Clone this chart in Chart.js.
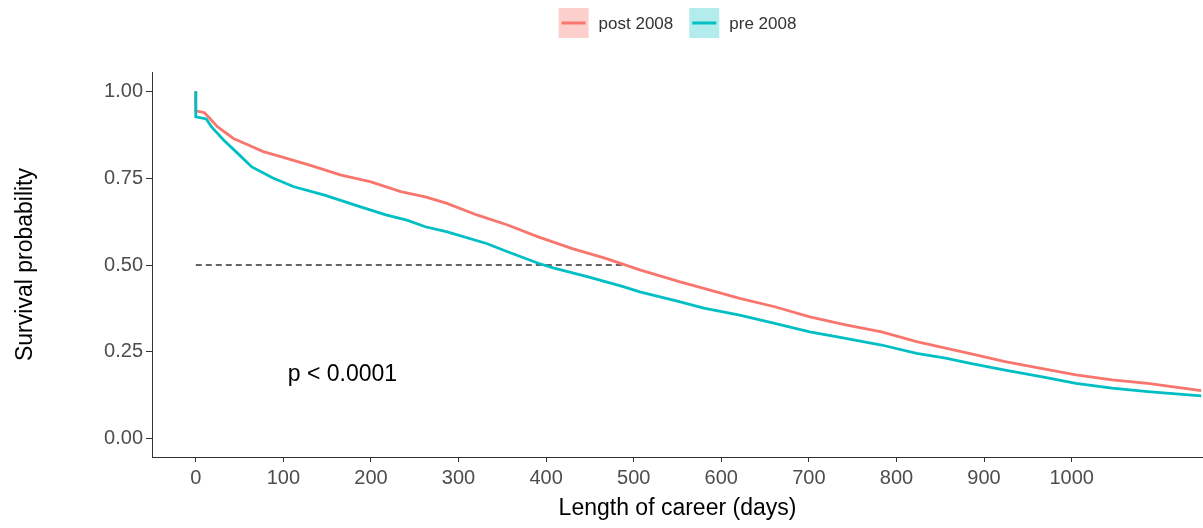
<!DOCTYPE html>
<html>
<head>
<meta charset="utf-8">
<script src="https://cdn.jsdelivr.net/npm/chart.js@4"></script>
<style>
  html, body { margin: 0; padding: 0; background: #fff; }
  #wrap { width: 1203px; height: 528px; }
</style>
</head>
<body>
<div id="wrap"><canvas id="survChart"></canvas></div>
<script>
// values
const seriesLabels = ['post 2008', 'pre 2008'];
const postDays = [0, 0, 10, 25, 43, 60, 77, 95, 130, 165, 200, 234, 262, 286, 321, 356, 391, 429, 468, 507, 552, 580, 621, 661, 701, 742, 783, 823, 856, 883, 924, 965, 1005, 1046, 1087, 1148];
const postSurv = [1.0, 0.943, 0.938, 0.897, 0.864, 0.845, 0.826, 0.813, 0.787, 0.759, 0.739, 0.711, 0.696, 0.678, 0.644, 0.615, 0.581, 0.548, 0.519, 0.486, 0.452, 0.433, 0.404, 0.380, 0.351, 0.328, 0.308, 0.280, 0.261, 0.246, 0.222, 0.203, 0.184, 0.170, 0.160, 0.139];
const preDays = [0, 0, 12, 18, 32, 50, 64, 88, 112, 147, 182, 217, 241, 262, 286, 332, 356, 391, 409, 448, 488, 507, 552, 580, 621, 661, 701, 742, 783, 823, 856, 883, 924, 965, 1005, 1046, 1087, 1148];
const preSurv = [1.0, 0.926, 0.920, 0.897, 0.859, 0.816, 0.782, 0.750, 0.725, 0.701, 0.672, 0.644, 0.629, 0.610, 0.596, 0.562, 0.538, 0.505, 0.491, 0.466, 0.438, 0.423, 0.395, 0.376, 0.356, 0.332, 0.308, 0.289, 0.270, 0.246, 0.232, 0.218, 0.198, 0.179, 0.160, 0.146, 0.136, 0.124];
const medianDays = [0, 490];
const medianSurv = [0.5, 0.5];
const xTicks = [0, 100, 200, 300, 400, 500, 600, 700, 800, 900, 1000];
const yTicks = [0, 0.25, 0.5, 0.75, 1];
const pValueText = 'p < 0.0001';

const fontFamily = "'Liberation Sans', Arial, sans-serif";
const redCol = '#F8766D';
const cyanCol = '#00BFC4';

function toPoints(xs, ys){
    let pts = new Array;
    for ( let i = 0 ; i < xs.length ; i++) pts.push({x: xs[i], y: ys[i]});
    return pts;
}

// legend boxes + p value, drawn like ggplot does
const extrasPlugin = {
    id: 'extras',
    afterDraw(chart){
        const ctx = chart.ctx;
        const area = chart.chartArea;
        const legendCols = [redCol, cyanCol];
        const legendFills = ['rgba(248,118,109,0.35)', 'rgba(0,191,196,0.3)'];
        ctx.save();
        ctx.font = '17px ' + fontFamily;
        const box = 30, gapText = 10, gapItem = 16;
        let total = 0;
        seriesLabels.forEach((lab, i) => {
            total += box + gapText + ctx.measureText(lab).width;
            if ( i < seriesLabels.length - 1 ) total += gapItem;
        });
        let x = (area.left + area.right) / 2 - total / 2;
        const top = 8;
        seriesLabels.forEach((lab, i) => {
            ctx.fillStyle = legendFills[i];
            ctx.fillRect(x, top, box, box);
            ctx.strokeStyle = legendCols[i];
            ctx.lineWidth = 3;
            ctx.beginPath();
            ctx.moveTo(x + 3, top + box / 2);
            ctx.lineTo(x + box - 3, top + box / 2);
            ctx.stroke();
            ctx.fillStyle = '#333333';
            ctx.textBaseline = 'middle';
            ctx.textAlign = 'left';
            ctx.fillText(lab, x + box + gapText, top + box / 2 + 1);
            x += box + gapText + ctx.measureText(lab).width + gapItem;
        });
        ctx.font = '23px ' + fontFamily;
        ctx.fillStyle = '#000000';
        ctx.textBaseline = 'middle';
        ctx.fillText(pValueText, chart.scales.x.getPixelForValue(105), chart.scales.y.getPixelForValue(0.184));
        ctx.restore();
    }
};

new Chart('survChart', {
    type: 'line',
    data: {
        datasets: [
            {
                label: seriesLabels[1],
                data: toPoints(preDays, preSurv),
                borderColor: cyanCol,
                borderWidth: 2.8,
                pointRadius: 0,
                tension: 0,
                fill: false
            },
            {
                label: seriesLabels[0],
                data: toPoints(postDays, postSurv),
                borderColor: redCol,
                borderWidth: 2.8,
                pointRadius: 0,
                tension: 0,
                fill: false
            },
            {
                label: 'median',
                data: toPoints(medianDays, medianSurv),
                borderColor: '#333333',
                borderWidth: 1.5,
                borderDash: [6, 4],
                pointRadius: 0,
                fill: false
            }
        ]
    },
    options: {
        responsive: true,
        maintainAspectRatio: false,
        animation: false,
        layout: { padding: { top: 72, right: 0, left: 0, bottom: 0 } },
        plugins: {
            legend: { display: false },
            tooltip: { enabled: false }
        },
        scales: {
            x: {
                type: 'linear',
                min: -50,
                max: 1150,
                afterBuildTicks: function(scale){ scale.ticks = xTicks.map(v => ({value: v})); },
                afterFit: function(scale){ scale.height = 71; },
                grid: { drawOnChartArea: false, color: '#333333', tickLength: 5, tickWidth: 1 },
                border: { color: '#333333', width: 1 },
                ticks: { color: '#4d4d4d', font: { family: fontFamily, size: 20 }, padding: 4, maxRotation: 0, callback: v => String(v) },
                title: { display: true, text: 'Length of career (days)', color: '#000000', font: { family: fontFamily, size: 23 }, padding: { top: 0, bottom: 6 } }
            },
            y: {
                min: -0.052,
                max: 1.055,
                afterBuildTicks: function(scale){ scale.ticks = yTicks.map(v => ({value: v})); },
                afterFit: function(scale){ scale.width = 152; },
                grid: { drawOnChartArea: false, color: '#333333', tickLength: 6, tickWidth: 1 },
                border: { color: '#333333', width: 1 },
                ticks: { color: '#4d4d4d', font: { family: fontFamily, size: 20 }, padding: 3, callback: v => v.toFixed(2) },
                title: { display: true, text: 'Survival probability', color: '#000000', font: { family: fontFamily, size: 23 }, padding: { top: 12, bottom: 0 } }
            }
        }
    },
    plugins: [extrasPlugin]
});
</script>
</body>
</html>
